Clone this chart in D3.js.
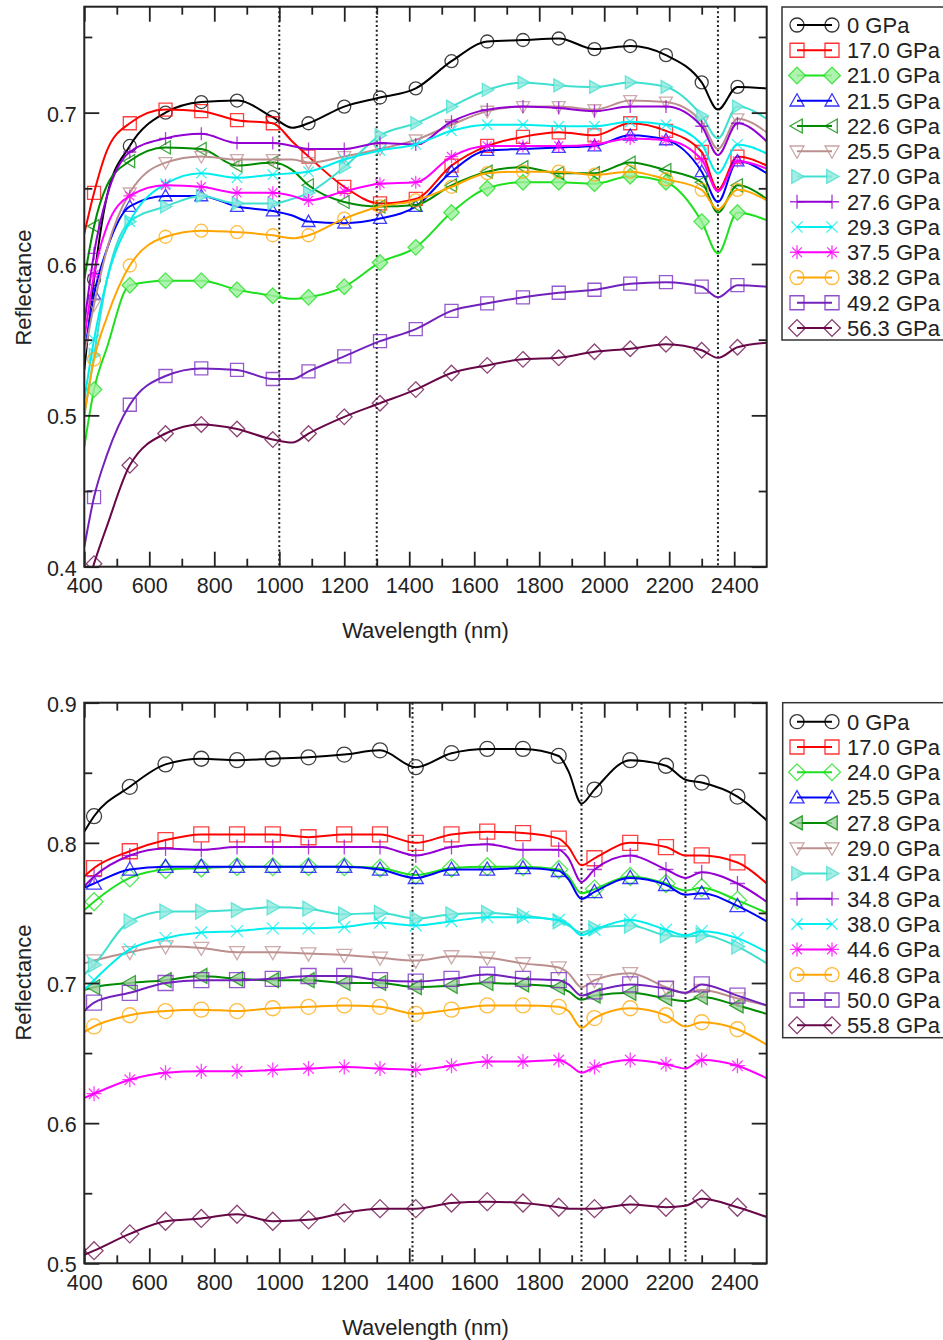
<!DOCTYPE html>
<html>
<head>
<meta charset="utf-8">
<script src="https://cdn.jsdelivr.net/npm/d3@7"></script>
<style>
  body { margin: 0; background: #fff; }
  svg { display: block; font-family: "Liberation Sans", Arial, Helvetica, sans-serif; }
</style>
</head>
<body>
<svg width="943" height="1340"></svg>
<script>
"use strict"

// symbols are drawn every 110 nm
const markerWl = [430, 540, 650, 760, 870, 980, 1090, 1200, 1310, 1420, 1530, 1640, 1750, 1860, 1970, 2080, 2190, 2300, 2410]

/* top panel */
const topWl = [400, 430, 470, 540, 650, 760, 870, 980, 1040, 1090, 1200, 1310, 1420, 1530, 1640, 1750, 1860, 1970, 2080, 2190, 2300, 2350, 2410, 2500]
const topLabels = ["0 GPa", "17.0 GPa", "21.0 GPa", "21.5 GPa", "22.6 GPa", "25.5 GPa", "27.0 GPa", "27.6 GPa", "29.3 GPa", "37.5 GPa", "38.2 GPa", "49.2 GPa", "56.3 GPa"]
const topValues = [
  [0.530, 0.590, 0.645, 0.678, 0.700, 0.707, 0.708, 0.697, 0.690, 0.693, 0.704, 0.710, 0.716, 0.734, 0.747, 0.748, 0.749, 0.742, 0.744, 0.738, 0.720, 0.702, 0.717, 0.716],
  [0.620, 0.647, 0.675, 0.693, 0.702, 0.701, 0.695, 0.693, 0.681, 0.671, 0.651, 0.640, 0.643, 0.665, 0.678, 0.684, 0.687, 0.685, 0.693, 0.688, 0.674, 0.649, 0.671, 0.665],
  [0.479, 0.517, 0.545, 0.586, 0.589, 0.589, 0.583, 0.579, 0.577, 0.578, 0.585, 0.601, 0.611, 0.634, 0.650, 0.654, 0.654, 0.653, 0.658, 0.654, 0.628, 0.607, 0.634, 0.629],
  [0.540, 0.580, 0.610, 0.638, 0.645, 0.645, 0.638, 0.635, 0.632, 0.628, 0.627, 0.630, 0.638, 0.661, 0.675, 0.676, 0.677, 0.678, 0.685, 0.682, 0.661, 0.641, 0.668, 0.660],
  [0.590, 0.625, 0.652, 0.668, 0.677, 0.676, 0.665, 0.667, 0.662, 0.652, 0.641, 0.638, 0.639, 0.652, 0.661, 0.664, 0.660, 0.660, 0.667, 0.662, 0.654, 0.634, 0.652, 0.643],
  [0.540, 0.573, 0.610, 0.647, 0.667, 0.671, 0.669, 0.669, 0.669, 0.667, 0.671, 0.676, 0.682, 0.692, 0.701, 0.704, 0.704, 0.702, 0.708, 0.707, 0.694, 0.676, 0.696, 0.687],
  [0.500, 0.540, 0.590, 0.628, 0.638, 0.645, 0.640, 0.640, 0.643, 0.647, 0.664, 0.685, 0.693, 0.704, 0.715, 0.720, 0.718, 0.717, 0.720, 0.717, 0.698, 0.683, 0.704, 0.696],
  [0.560, 0.607, 0.645, 0.674, 0.683, 0.686, 0.680, 0.680, 0.678, 0.676, 0.676, 0.680, 0.679, 0.694, 0.702, 0.704, 0.703, 0.701, 0.704, 0.704, 0.691, 0.672, 0.693, 0.681],
  [0.510, 0.550, 0.590, 0.628, 0.653, 0.660, 0.657, 0.659, 0.660, 0.661, 0.669, 0.675, 0.679, 0.688, 0.692, 0.692, 0.691, 0.691, 0.694, 0.692, 0.679, 0.660, 0.679, 0.673],
  [0.550, 0.593, 0.625, 0.645, 0.652, 0.651, 0.647, 0.647, 0.645, 0.642, 0.648, 0.653, 0.654, 0.671, 0.678, 0.678, 0.678, 0.679, 0.683, 0.682, 0.669, 0.648, 0.668, 0.663],
  [0.500, 0.537, 0.565, 0.599, 0.618, 0.622, 0.621, 0.619, 0.617, 0.619, 0.630, 0.638, 0.642, 0.651, 0.660, 0.661, 0.661, 0.659, 0.661, 0.656, 0.649, 0.636, 0.649, 0.642],
  [0.413, 0.446, 0.474, 0.507, 0.526, 0.531, 0.530, 0.524, 0.524, 0.529, 0.539, 0.549, 0.557, 0.569, 0.574, 0.578, 0.581, 0.583, 0.587, 0.588, 0.585, 0.578, 0.586, 0.585],
  [0.380, 0.402, 0.427, 0.467, 0.488, 0.494, 0.491, 0.484, 0.482, 0.488, 0.499, 0.508, 0.517, 0.528, 0.533, 0.537, 0.538, 0.542, 0.544, 0.547, 0.543, 0.538, 0.545, 0.548]
]
const topDotted = [1000, 1300, 2350]

/* bottom panel */
const botWl = [400, 430, 540, 650, 760, 870, 980, 1090, 1200, 1310, 1420, 1530, 1640, 1750, 1860, 1890, 1930, 1970, 2080, 2190, 2250, 2300, 2410, 2500]
const botLabels = ["0 GPa", "17.0 GPa", "24.0 GPa", "25.5 GPa", "27.8 GPa", "29.0 GPa", "31.4 GPa", "34.8 GPa", "38.0 GPa", "44.6 GPa", "46.8 GPa", "50.0 GPa", "55.8 GPa"]
const botValues = [
  [0.808, 0.819, 0.840, 0.856, 0.860, 0.859, 0.860, 0.861, 0.863, 0.866, 0.854, 0.864, 0.867, 0.867, 0.862, 0.851, 0.828, 0.838, 0.859, 0.855, 0.845, 0.843, 0.833, 0.816],
  [0.776, 0.782, 0.794, 0.802, 0.806, 0.806, 0.806, 0.804, 0.806, 0.806, 0.800, 0.806, 0.808, 0.807, 0.803, 0.797, 0.784, 0.789, 0.800, 0.797, 0.791, 0.791, 0.786, 0.771],
  [0.752, 0.758, 0.775, 0.781, 0.782, 0.783, 0.783, 0.783, 0.783, 0.782, 0.777, 0.782, 0.783, 0.783, 0.781, 0.776, 0.764, 0.767, 0.776, 0.771, 0.766, 0.768, 0.759, 0.750],
  [0.768, 0.771, 0.781, 0.783, 0.783, 0.783, 0.783, 0.783, 0.783, 0.781, 0.775, 0.781, 0.781, 0.782, 0.780, 0.774, 0.760, 0.765, 0.775, 0.770, 0.763, 0.764, 0.755, 0.744],
  [0.695, 0.697, 0.700, 0.702, 0.705, 0.703, 0.702, 0.702, 0.700, 0.700, 0.697, 0.698, 0.700, 0.699, 0.697, 0.694, 0.688, 0.691, 0.693, 0.689, 0.687, 0.690, 0.684, 0.678],
  [0.714, 0.716, 0.722, 0.726, 0.725, 0.722, 0.722, 0.721, 0.720, 0.718, 0.716, 0.719, 0.718, 0.714, 0.711, 0.707, 0.697, 0.702, 0.707, 0.697, 0.693, 0.695, 0.689, 0.684],
  [0.706, 0.713, 0.744, 0.751, 0.751, 0.752, 0.754, 0.753, 0.749, 0.750, 0.746, 0.749, 0.750, 0.748, 0.744, 0.741, 0.736, 0.739, 0.741, 0.734, 0.733, 0.734, 0.726, 0.714],
  [0.769, 0.776, 0.791, 0.796, 0.795, 0.797, 0.797, 0.797, 0.797, 0.797, 0.791, 0.797, 0.799, 0.795, 0.795, 0.789, 0.772, 0.781, 0.791, 0.781, 0.775, 0.779, 0.771, 0.758],
  [0.695, 0.702, 0.724, 0.732, 0.736, 0.737, 0.739, 0.739, 0.740, 0.743, 0.741, 0.744, 0.747, 0.747, 0.745, 0.742, 0.734, 0.738, 0.745, 0.738, 0.734, 0.737, 0.732, 0.722],
  [0.618, 0.621, 0.631, 0.636, 0.637, 0.637, 0.638, 0.639, 0.640, 0.639, 0.638, 0.641, 0.644, 0.644, 0.645, 0.642, 0.636, 0.640, 0.645, 0.642, 0.639, 0.645, 0.641, 0.632],
  [0.665, 0.669, 0.677, 0.680, 0.681, 0.680, 0.682, 0.683, 0.684, 0.683, 0.678, 0.681, 0.684, 0.684, 0.683, 0.680, 0.668, 0.675, 0.682, 0.677, 0.669, 0.672, 0.667, 0.656],
  [0.680, 0.686, 0.693, 0.700, 0.702, 0.702, 0.703, 0.705, 0.705, 0.702, 0.701, 0.703, 0.706, 0.703, 0.702, 0.699, 0.691, 0.694, 0.699, 0.696, 0.693, 0.699, 0.691, 0.684],
  [0.506, 0.509, 0.521, 0.530, 0.532, 0.535, 0.530, 0.531, 0.536, 0.539, 0.539, 0.543, 0.544, 0.543, 0.540, 0.539, 0.539, 0.539, 0.542, 0.540, 0.541, 0.546, 0.540, 0.533]
]
const botDotted = [1410, 1930, 2250]

// grace-like set colours and symbols (same order in both panels)
const colors = ["#000000", "#ff0000", "#1fe01f", "#0000ff", "#008b00", "#bc8f8f", "#40e0d0", "#9400d3", "#00eeee", "#ff00ff", "#ffa500", "#7221bc", "#670748"]
const symbols = ["circle", "square", "diamond", "up", "left", "down", "right", "plus", "cross", "star", "circle", "square", "diamond"]
const topFills = {2: "#9cf09c", 6: "#8ee8df"}
const botFills = {4: "#9fcf9f", 6: "#8ee8df"}

let svg = d3.select("svg")

let x = d3.scaleLinear().domain([400, 2500]).range([84.3, 766.7])

function markerPath(type, s) {
  switch (type) {
    case "circle": return `M${s},0A${s},${s} 0 1,1 ${-s},0A${s},${s} 0 1,1 ${s},0Z`
    case "square": return `M${-s},${-s}H${s}V${s}H${-s}Z`
    case "diamond": { let d = s * 1.2; return `M0,${-d}L${d},0L0,${d}L${-d},0Z` }
    case "up": return `M0,${-s}L${s},${s * 0.75}L${-s},${s * 0.75}Z`
    case "down": return `M0,${s}L${s},${-s * 0.75}L${-s},${-s * 0.75}Z`
    case "left": return `M${-s},0L${s * 0.75},${-s}L${s * 0.75},${s}Z`
    case "right": return `M${s},0L${-s * 0.75},${-s}L${-s * 0.75},${s}Z`
    case "plus": return `M${-s},0H${s}M0,${-s}V${s}`
    case "cross": { let d = s * 0.8; return `M${-d},${-d}L${d},${d}M${-d},${d}L${d},${-d}` }
    case "star": { let d = s * 0.7; return `M${-s},0H${s}M0,${-s}V${s}M${-d},${-d}L${d},${d}M${-d},${d}L${d},${-d}` }
  }
}

function drawPanel(p) {
  let y = d3.scaleLinear().domain(p.yDomain).range([p.yBottom, p.yTop])
  let g = svg.append("g")
  let clipId = "clip" + p.id

  g.append("clipPath").attr("id", clipId)
    .append("rect")
    .attr("x", x(400)).attr("y", p.yTop)
    .attr("width", x(2500) - x(400)).attr("height", p.yBottom - p.yTop)

  /* dotted guide lines */
  g.append("g").selectAll("line")
    .data(p.dotted)
    .enter().append("line")
    .attr("x1", d => x(d)).attr("x2", d => x(d))
    .attr("y1", p.yTop).attr("y2", p.yBottom)
    .attr("stroke", "#222")
    .attr("stroke-width", 2)
    .attr("stroke-dasharray", "2,2.6")

  let line = d3.line()
    .x(d => x(d[0]))
    .y(d => y(d[1]))
    .curve(d3.curveMonotoneX)

  let plot = g.append("g").attr("clip-path", `url(#${clipId})`)
  p.values.forEach((vals, i) => {
    let pts = p.wl.map((w, k) => [w, vals[k]])
    let set = plot.append("g")
    set.append("path")
      .attr("d", line(pts))
      .attr("fill", "none")
      .attr("stroke", colors[i])
      .attr("stroke-width", 2)
    set.selectAll(".mk")
      .data(pts.filter(d => markerWl.includes(d[0])))
      .enter().append("path")
      .attr("class", "mk")
      .attr("transform", d => `translate(${x(d[0])},${y(d[1])})`)
      .attr("d", markerPath(symbols[i], p.mSize))
      .attr("fill", p.fills[i] || "none")
      .attr("fill-opacity", p.fills[i] ? 0.8 : null)
      .attr("stroke", colors[i])
      .attr("stroke-opacity", 0.75)
      .attr("stroke-width", 1.3)
  })

  /* axes: major and minor ticks on all four sides, pointing in */
  let xMajor = d3.range(400, 2401, 200)
  let xMinor = d3.range(500, 2500, 200)
  let yMajor = d3.range(p.yDomain[0], p.yDomain[1] + 0.001, 0.1)
  let yMinor = d3.range(p.yDomain[0] + 0.05, p.yDomain[1], 0.1)

  let axes = [
    [d3.axisBottom(x).tickValues(xMajor).tickSize(-15).tickFormat(d3.format("d")), `translate(0,${p.yBottom})`],
    [d3.axisBottom(x).tickValues(xMinor).tickSize(-8).tickFormat(""), `translate(0,${p.yBottom})`],
    [d3.axisTop(x).tickValues(xMajor).tickSize(-15).tickFormat(""), `translate(0,${p.yTop})`],
    [d3.axisTop(x).tickValues(xMinor).tickSize(-8).tickFormat(""), `translate(0,${p.yTop})`],
    [d3.axisLeft(y).tickValues(yMajor).tickSize(-15).tickFormat(d3.format(".1f")), `translate(${x(400)},0)`],
    [d3.axisLeft(y).tickValues(yMinor).tickSize(-8).tickFormat(""), `translate(${x(400)},0)`],
    [d3.axisRight(y).tickValues(yMajor).tickSize(-15).tickFormat(""), `translate(${x(2500)},0)`],
    [d3.axisRight(y).tickValues(yMinor).tickSize(-8).tickFormat(""), `translate(${x(2500)},0)`]
  ]
  axes.forEach(([ax, tr], k) => {
    let a = g.append("g").attr("transform", tr).call(ax)
    a.select(".domain").remove()
    a.selectAll("line").attr("stroke", "#222").attr("stroke-width", 1.8)
    a.attr("font-family", null).attr("font-size", 21.5)
    a.selectAll("text").attr("fill", "#222")
    if (k === 0) a.selectAll("text").attr("y", 26.5).attr("dy", null)
    if (k === 4) a.selectAll("text").attr("x", -7.5).attr("dy", "0.4em")
  })

  g.append("rect")
    .attr("x", x(400)).attr("y", p.yTop)
    .attr("width", x(2500) - x(400)).attr("height", p.yBottom - p.yTop)
    .attr("fill", "none")
    .attr("stroke", "#222")
    .attr("stroke-width", 2)

  /* titles */
  g.append("text")
    .attr("x", (x(400) + x(2500)) / 2).attr("y", p.xTitleY)
    .attr("text-anchor", "middle")
    .attr("font-size", 22).attr("fill", "#222")
    .text("Wavelength (nm)")
  g.append("text")
    .attr("transform", `translate(31,${p.yTitleMid}) rotate(-90)`)
    .attr("text-anchor", "middle")
    .attr("font-size", 22).attr("fill", "#222")
    .text("Reflectance")

  /* legend */
  let lg = g.append("g")
  lg.append("rect")
    .attr("x", p.legend.x).attr("y", p.legend.y)
    .attr("width", 200).attr("height", p.legend.h)
    .attr("fill", "#fff").attr("stroke", "#333").attr("stroke-width", 1.5)
  let rows = lg.selectAll(".row")
    .data(p.labels)
    .enter().append("g")
    .attr("transform", (d, i) => `translate(0,${p.legend.row0 + i * p.legend.step})`)
  rows.append("line")
    .attr("x1", 797).attr("x2", 832)
    .attr("stroke", (d, i) => colors[i])
    .attr("stroke-width", 2)
  ;[797, 832].forEach(mx => {
    rows.append("path")
      .attr("transform", `translate(${mx},0)`)
      .attr("d", (d, i) => markerPath(symbols[i], 7))
      .attr("fill", (d, i) => p.fills[i] || "none")
      .attr("fill-opacity", (d, i) => p.fills[i] ? 0.8 : null)
      .attr("stroke", (d, i) => colors[i])
      .attr("stroke-opacity", 0.8)
      .attr("stroke-width", 1.3)
  })
  rows.append("text")
    .attr("x", 847).attr("y", 7.8)
    .attr("font-size", 22).attr("fill", "#222")
    .text(d => d)
}

drawPanel({
  id: "top", wl: topWl, values: topValues, labels: topLabels, dotted: topDotted, fills: topFills,
  yDomain: [0.4, 0.77], yTop: 6.7, yBottom: 566.7, mSize: 6.5,
  xTitleY: 638, yTitleMid: 287.5,
  legend: {x: 782, y: 7, h: 333, row0: 25, step: 25.25}
})

drawPanel({
  id: "bot", wl: botWl, values: botValues, labels: botLabels, dotted: botDotted, fills: botFills,
  yDomain: [0.5, 0.9], yTop: 702.7, yBottom: 1263.3, mSize: 7.5,
  xTitleY: 1335, yTitleMid: 982.5,
  legend: {x: 782.7, y: 702.7, h: 335, row0: 721.7, step: 25.3}
})
</script>
</body>
</html>
